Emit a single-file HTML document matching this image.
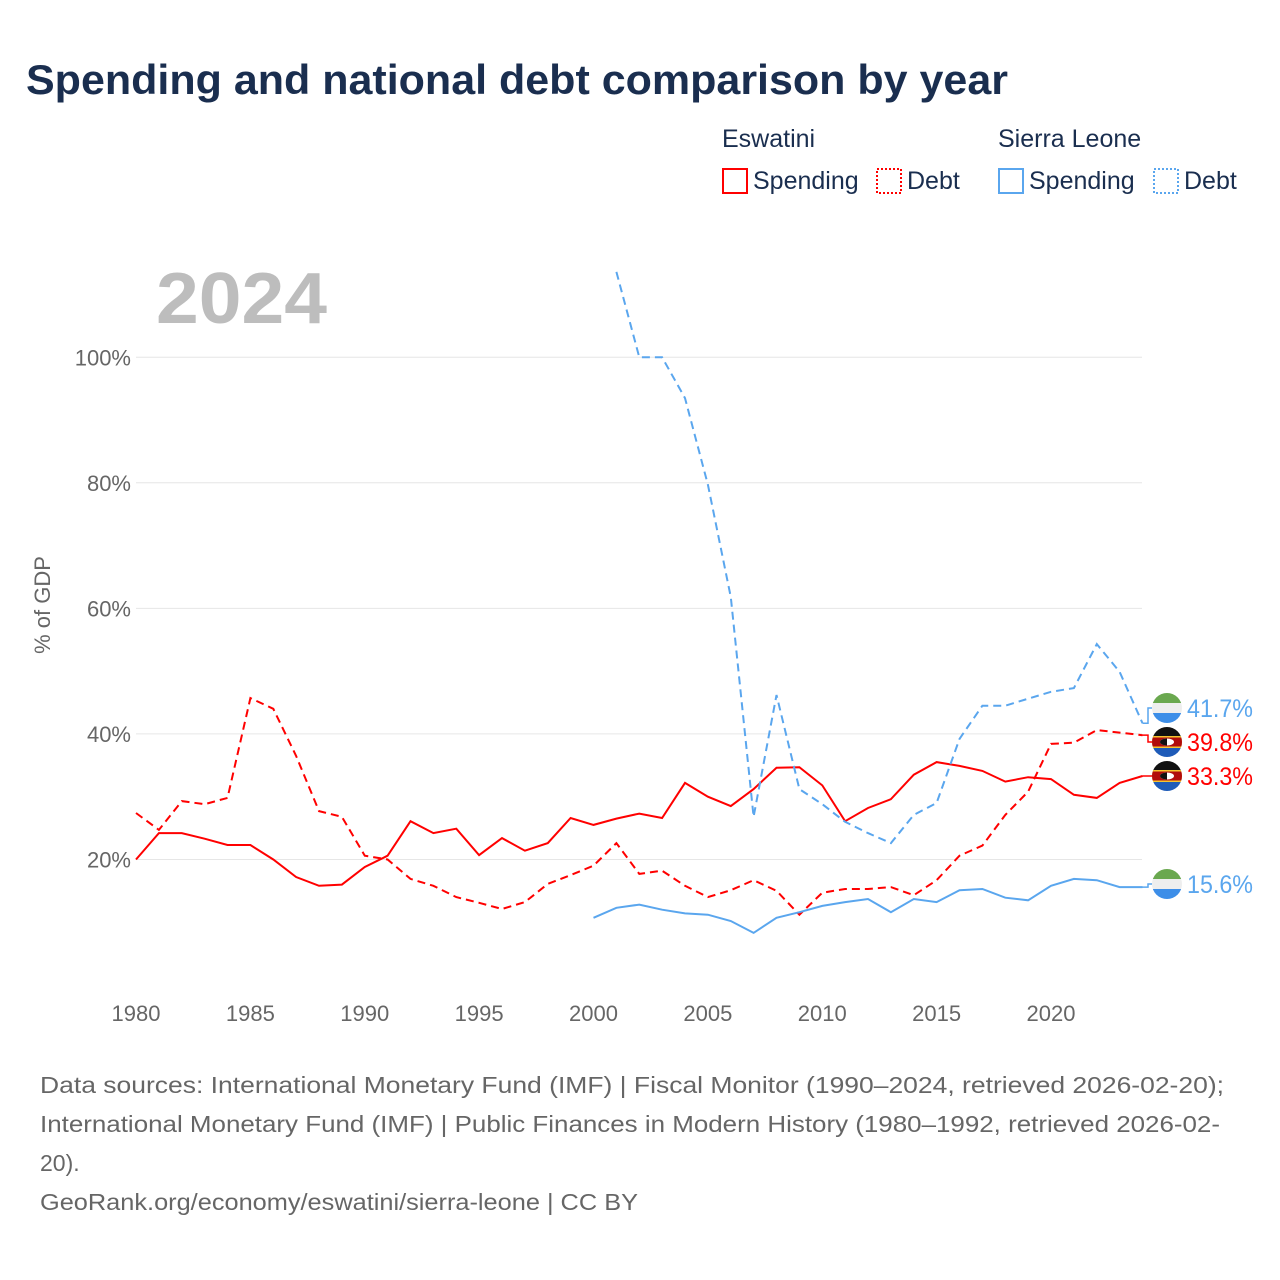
<!DOCTYPE html>
<html><head><meta charset="utf-8"><style>
body{margin:0;background:#fff;font-family:"Liberation Sans",sans-serif;}
#wrap{position:relative;width:1280px;height:1280px;overflow:hidden;}
</style></head><body><div id="wrap">
<svg id="chart" width="1280" height="1280" xmlns="http://www.w3.org/2000/svg">
<text x="26" y="94" font-size="42" font-weight="bold" fill="#1a2e4f" textLength="982" lengthAdjust="spacingAndGlyphs">Spending and national debt comparison by year</text>
<g font-size="25" fill="#1a2e4f">
<text x="722" y="147">Eswatini</text>
<text x="998" y="147">Sierra Leone</text>
<rect x="723" y="169" width="24" height="24" fill="none" stroke="#f00" stroke-width="2"/>
<text x="753" y="189">Spending</text>
<rect x="877" y="169" width="24" height="24" fill="none" stroke="#f00" stroke-width="2" stroke-dasharray="2,2"/>
<text x="907" y="189">Debt</text>
<rect x="999" y="169" width="24" height="24" fill="none" stroke="#5aa6ee" stroke-width="2"/>
<text x="1029" y="189">Spending</text>
<rect x="1154" y="169" width="24" height="24" fill="none" stroke="#5aa6ee" stroke-width="2" stroke-dasharray="2,2"/>
<text x="1184" y="189">Debt</text>
</g>
<text x="156" y="323" font-size="72" font-weight="bold" fill="#bdbdbd" textLength="171" lengthAdjust="spacingAndGlyphs">2024</text>
<text transform="translate(50,605) rotate(-90)" text-anchor="middle" font-size="22" fill="#666">% of GDP</text>
<g id="grid"></g><g id="series"></g><g id="ends"></g>
<g font-size="23" fill="#666">
<text x="40" y="1093" textLength="1184" lengthAdjust="spacingAndGlyphs">Data sources: International Monetary Fund (IMF) | Fiscal Monitor (1990–2024, retrieved 2026-02-20);</text>
<text x="40" y="1132" textLength="1180" lengthAdjust="spacingAndGlyphs">International Monetary Fund (IMF) | Public Finances in Modern History (1980–1992, retrieved 2026-02-</text>
<text x="40" y="1171">20).</text>
<text x="40" y="1210" textLength="598" lengthAdjust="spacingAndGlyphs">GeoRank.org/economy/eswatini/sierra-leone | CC BY</text>
</g>
</svg>
<script>
const yTicks=[20,40,60,80,100];
const xTicks=[1980,1985,1990,1995,2000,2005,2010,2015,2020];
const eswYears0=1980;
const eswSpending=[20,24.2,24.2,23.3,22.3,22.3,20,17.2,15.8,16,18.8,20.6,26.1,24.2,24.9,20.7,23.4,21.4,22.6,26.6,25.5,26.5,27.3,26.6,32.2,30,28.5,31.2,34.6,34.7,31.8,26.1,28.2,29.6,33.5,35.5,34.9,34.1,32.4,33.1,32.8,30.3,29.8,32.2,33.3];
const eswDebt=[27.4,24.7,29.3,28.8,29.8,45.7,44,36.5,27.7,26.8,20.6,20,16.9,15.8,14,13.1,12.1,13.2,16.1,17.5,19,22.6,17.7,18.2,15.8,14,15.1,16.7,15,11.2,14.7,15.3,15.3,15.6,14.3,16.7,20.6,22.2,27.1,30.8,38.4,38.6,40.6,40.2,39.8];
const slSpendStart=2000;
const slSpending=[10.7,12.3,12.8,12,11.4,11.2,10.2,8.3,10.7,11.6,12.6,13.2,13.7,11.6,13.7,13.2,15.1,15.3,13.9,13.5,15.8,16.9,16.7,15.6,15.6];
const slDebtStart=2001;
const slDebt=[113.6,100,100,93.5,79.7,61.8,26.8,46.2,31.2,28.8,26,24.2,22.6,27.1,29,39.2,44.5,44.5,45.6,46.7,47.3,54.3,49.9,41.7];
const NS="http://www.w3.org/2000/svg";
const X=y=>136+(y-1980)*22.875;
const Y=v=>985-v*6.2775;
function mk(t,a,p){const e=document.createElementNS(NS,t);for(const k in a)e.setAttribute(k,a[k]);p.appendChild(e);return e;}
const grid=document.getElementById('grid');
yTicks.forEach(v=>{
 const l=mk('line',{x1:136,x2:1142,y1:Y(v),y2:Y(v),stroke:'#e6e6e6','stroke-width':1},grid);
 
 
 const t=mk('text',{x:131,y:Y(v)+8,'text-anchor':'end','font-size':22,fill:'#666'},grid);t.textContent=v+'%';
 
 
});
xTicks.forEach(y=>{
 const t=mk('text',{x:X(y),y:1021,'text-anchor':'middle','font-size':22,fill:'#666'},grid);t.textContent=y;
 
 
});
const S=document.getElementById('series');
function line(arr,start,col,dash,name){
 const d=arr.map((v,i)=>(i?'L':'M')+X(start+i).toFixed(1)+','+Y(v).toFixed(1)).join('');
 const p=mk('path',{d:d,fill:'none',stroke:col,'stroke-width':2,'stroke-dasharray':dash||'none'},S);
 
 
}
line(eswSpending,eswYears0,'#f00','', 'eswatini-spending-line');
line(eswDebt,eswYears0,'#f00','8,5','eswatini-debt-line');
line(slSpending,slSpendStart,'#5aa6ee','','sierra-leone-spending-line');
line(slDebt,slDebtStart,'#5aa6ee','8,5','sierra-leone-debt-line');
const E=document.getElementById('ends');
function flag(cy,type,val,col,name,lastY){
 const g=mk('g',{},E);
 
 
 mk('polyline',{points:`${X(2024)},${Y(lastY)} 1148,${Y(lastY)} 1148,${cy} 1152,${cy}`,fill:'none',stroke:col,'stroke-width':1.5},g);
 const id='c'+Math.round(cy);
 const cp=mk('clipPath',{id:id},g);mk('circle',{cx:1167,cy:cy,r:15},cp);
 const f=mk('g',{'clip-path':`url(#${id})`},g);
 if(type==='sl'){
  mk('rect',{x:1152,y:cy-15,width:30,height:10,fill:'#6aa84f'},f);
  mk('rect',{x:1152,y:cy-5,width:30,height:10,fill:'#eee'},f);
  mk('rect',{x:1152,y:cy+5,width:30,height:10,fill:'#3d8ee8'},f);
 } else {
  mk('rect',{x:1152,y:cy-15,width:30,height:10,fill:'#111'},f);
  mk('rect',{x:1152,y:cy-6,width:30,height:12,fill:'#f4c430'},f);
  mk('rect',{x:1152,y:cy-4.5,width:30,height:9,fill:'#b10c0c'},f);
  mk('rect',{x:1152,y:cy+6,width:30,height:9,fill:'#1e5bb8'},f);
  mk('ellipse',{cx:1167,cy:cy,rx:7,ry:3.5,fill:'#fff'},f);
  mk('path',{d:`M1160,${cy}A7,3.5 0 0 1 1167,${cy-3.5}V${cy+3.5}A7,3.5 0 0 1 1160,${cy}`,fill:'#111'},f);
 }
 const t=mk('text',{x:1187,y:cy+9,'font-size':25,fill:col,textLength:66,lengthAdjust:'spacingAndGlyphs'},g);t.textContent=val.toFixed(1)+'%';
}
flag(708,'sl',slDebt[slDebt.length-1],'#5aa6ee','end-label-sierra-leone-debt',slDebt[slDebt.length-1]);
flag(742,'sz',eswDebt[eswDebt.length-1],'#f00','end-label-eswatini-debt',eswDebt[eswDebt.length-1]);
flag(776,'sz',eswSpending[eswSpending.length-1],'#f00','end-label-eswatini-spending',eswSpending[eswSpending.length-1]);
flag(884,'sl',slSpending[slSpending.length-1],'#5aa6ee','end-label-sierra-leone-spending',slSpending[slSpending.length-1]);
</script>
</div></body></html>
